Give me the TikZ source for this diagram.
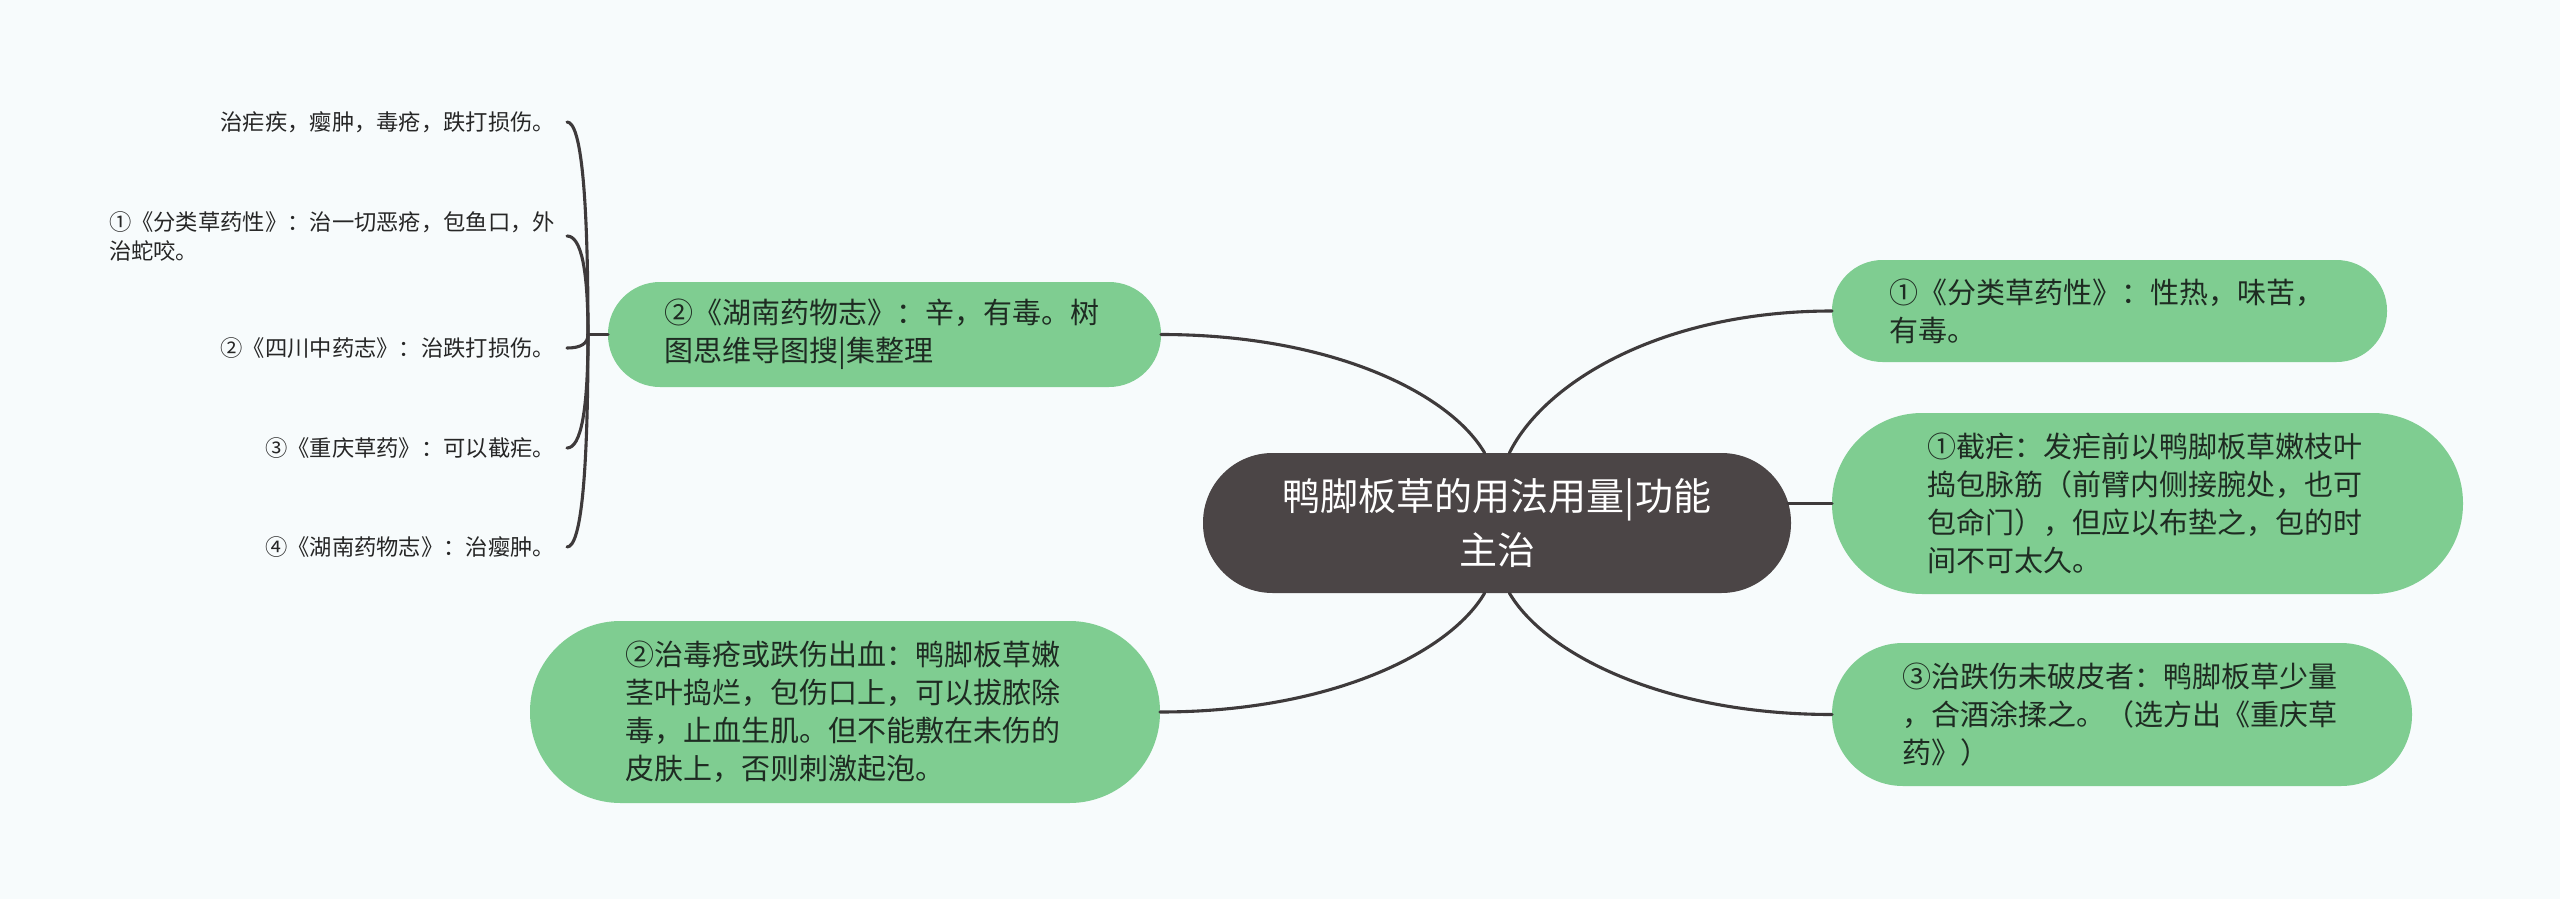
\documentclass[tikz,border=0pt]{standalone}
\usepackage{fontspec}
\newfontfamily\cjk{Noto Sans CJK SC}
\usetikzlibrary{calc}
\definecolor{bgc}{HTML}{F7FBFC}
\definecolor{leaf}{HTML}{7FCD91}
\definecolor{rootc}{HTML}{4B4546}
\definecolor{linec}{HTML}{3E3A3B}
\definecolor{leaftext}{HTML}{1E2B22}
\definecolor{smalltext}{HTML}{262626}
\begin{document}
\begin{tikzpicture}[x=1pt,y=-1pt,
  conn/.style={draw=linec, line width=3.1pt, line cap=round},
  rootbox/.style={rectangle, fill=rootc, text=white, font=\cjk\fontsize{38}{54}\selectfont, align=center, inner sep=0pt, outer sep=0pt, minimum width=588pt, minimum height=140pt, rounded corners=69.5pt},
  leafbox/.style={rectangle, fill=leaf, text=leaftext, font=\cjk\fontsize{29}{38}\selectfont, align=left, text width=440pt, inner sep=0pt, outer sep=0pt},
  smalltxt/.style={anchor=east, text=smalltext, font=\cjk\fontsize{22.3}{29}\selectfont, inner xsep=12pt, inner ysep=0pt, outer sep=0pt}
]
\fill[bgc] (0,0) rectangle (2560,899);

\node[rootbox] (c) at (1497,523) {鸭脚板草的用法用量|功能\\主治};

\node[leafbox, minimum width=555pt, minimum height=102pt, rounded corners=50.5pt] (r1) at (2109.5,311)
  {①《分类草药性》：性热，味苦，\\有毒。};
\node[leafbox, minimum width=631pt, minimum height=181pt, rounded corners=90pt] (r2) at (2147.5,503.5)
  {①截疟：发疟前以鸭脚板草嫩枝叶\\捣包脉筋（前臂内侧接腕处，也可\\包命门），但应以布垫之，包的时\\间不可太久。};
\node[leafbox, minimum width=580pt, minimum height=143pt, rounded corners=71pt] (r3) at (2122,714.5)
  {③治跌伤未破皮者：鸭脚板草少量\\，合酒涂揉之。（选方出《重庆草\\药》）};
\node[leafbox, minimum width=553pt, minimum height=105pt, rounded corners=52pt] (hn) at (884.5,334.5)
  {②《湖南药物志》：辛，有毒。树\\图思维导图搜|集整理};
\node[leafbox, minimum width=630pt, minimum height=182pt, rounded corners=90.5pt] (lb) at (845,712)
  {②治毒疮或跌伤出血：鸭脚板草嫩\\茎叶捣烂，包伤口上，可以拔脓除\\毒，止血生肌。但不能敷在未伤的\\皮肤上，否则刺激起泡。};

\node[smalltxt] (s0) at (567,122) {治疟疾，瘿肿，毒疮，跌打损伤。};
\node[smalltxt, text width=446pt, align=left] (s1) at (567,236) {①《分类草药性》：治一切恶疮，包鱼口，外\\治蛇咬。};
\node[smalltxt] (s2) at (567,348) {②《四川中药志》：治跌打损伤。};
\node[smalltxt] (s3) at (567,448) {③《重庆草药》：可以截疟。};
\node[smalltxt] (s4) at (567,547) {④《湖南药物志》：治瘿肿。};

\draw[conn] (c.100) .. controls +(-35,-60) and +(170,0) .. (hn.east);
\draw[conn] (c.80) .. controls +(35,-71) and +(-170,0) .. (r1.west);
\draw[conn] (c.260) .. controls +(-35,60) and +(170,0) .. (lb.east);
\draw[conn] (c.280) .. controls +(35,60) and +(-170,0) .. (r3.west);
\draw[conn] ($(c.east |- r2.west)+(-3,0)$) -- (r2.west);

\coordinate (j) at (588,334.5);
\draw[conn] (hn.west) -- (j);
\foreach \s in {s0,s1,s2,s3,s4}
  \draw[conn] (j) .. controls ($(j)!0.667!(j |- \s.east)$) and ($(\s.east)!0.667!(j |- \s.east)$) .. (\s.east);
\end{tikzpicture}
\end{document}
